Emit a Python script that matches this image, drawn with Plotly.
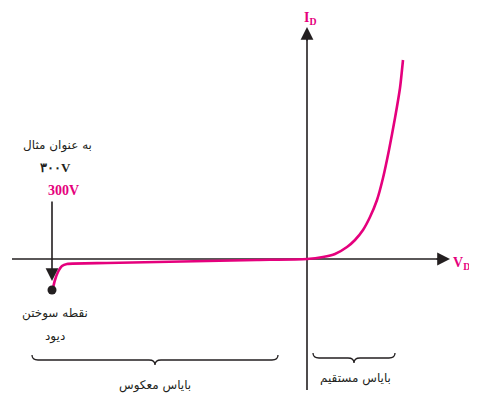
import plotly.graph_objects as go

# diode characteristic (units: screen-like, origin at the axes crossing)
fwd_v = [0, 16, 28, 40, 48, 56, 63, 70, 76, 82, 88, 93, 96]
fwd_i = [0, 2, 5, 12, 19, 29, 42, 59, 81, 109, 141, 171, 199]
rev_v = [-254, -252, -249, -245, -240, -200, -150, -100, -50, 0]
rev_i = [-29, -21, -13, -7, -5, -4, -3, -2, -1, 0]
breakdown_v = [-255]
breakdown_i = [-31]

PINK = "#E5007D"
INK = "#231F20"
SERIF = "Liberation Serif, Times New Roman, serif"
FA = "DejaVu Sans, Noto Sans, sans-serif"

fig = go.Figure()

# axes
fig.add_trace(go.Scatter(x=[-295, 136], y=[0, 0], mode="lines",
                         line=dict(color=INK, width=1.6), hoverinfo="skip"))
fig.add_trace(go.Scatter(x=[0, 0], y=[-131, 225], mode="lines",
                         line=dict(color=INK, width=1.6), hoverinfo="skip"))

# curve
fig.add_trace(go.Scatter(x=rev_v + fwd_v[1:], y=rev_i + fwd_i[1:], mode="lines",
                         line=dict(color=PINK, width=2.6, shape="spline", smoothing=0.6),
                         hoverinfo="skip"))

# arrow heads for the axes and the 300V pointer
for tip, tail in [((143, 0), (128, 0)), ((0, 232), (0, 217))]:
    fig.add_annotation(x=tip[0], y=tip[1], ax=tail[0], ay=tail[1], axref="x", ayref="y",
                       showarrow=True, arrowhead=2, arrowsize=1.6, arrowwidth=1.6,
                       arrowcolor=INK, text="")
fig.add_annotation(x=-255, y=-22, ax=-255, ay=59, axref="x", ayref="y",
                   showarrow=True, arrowhead=2, arrowsize=1.6, arrowwidth=1.6,
                   arrowcolor=INK, text="")

fig.add_trace(go.Scatter(x=breakdown_v, y=breakdown_i, mode="markers",
                         marker=dict(color=INK, size=9), hoverinfo="skip"))

# braces
def brace(x0, x1, y0, h):
    xm = (x0 + x1) / 2
    y1 = y0 - h / 2
    y2 = y0 - h
    r = 6
    return (f"M {x0},{y0} Q {x0},{y1} {x0 + r},{y1} L {xm - r},{y1} "
            f"Q {xm},{y1} {xm},{y2} Q {xm},{y1} {xm + r},{y1} "
            f"L {x1 - r},{y1} Q {x1},{y1} {x1},{y0}")

fig.add_shape(type="path", path=brace(-275, -29, -96, 10), xref="x", yref="y",
              line=dict(color=INK, width=1.3))
fig.add_shape(type="path", path=brace(6, 88, -94, 10), xref="x", yref="y",
              line=dict(color=INK, width=1.3))

texts = [
    (-250, 114, "به عنوان مثال", INK, FA, 12),
    (-252, 92, "<b>۳۰۰V</b>", INK, SERIF, 13),
    (-244, 69, "<b>300V</b>", PINK, SERIF, 14),
    (-252, -54, "نقطه سوختن", INK, FA, 12),
    (-252, -77, "دیود", INK, FA, 12),
    (-152, -126, "بایاس معکوس", INK, FA, 12),
    (48, -119, "بایاس مستقیم", INK, FA, 12),
    (3, 241, "<b>I<sub>D</sub></b>", PINK, SERIF, 14),
    (154, -4, "<b>V<sub>D</sub></b>", PINK, SERIF, 14),
]
for x, y, t, c, f, s in texts:
    fig.add_annotation(x=x, y=y, text=t, showarrow=False,
                       font=dict(color=c, family=f, size=s))

# the page puts the plot 8px in from the top-left, so the figure is 8px smaller
fig.update_layout(
    width=469, height=389, margin=dict(l=0, r=0, t=0, b=0),
    paper_bgcolor="white", plot_bgcolor="white", showlegend=False,
    xaxis=dict(range=[-299, 170], visible=False, fixedrange=True),
    yaxis=dict(range=[-138, 251], visible=False, fixedrange=True),
)

fig.write_html("out.html")
